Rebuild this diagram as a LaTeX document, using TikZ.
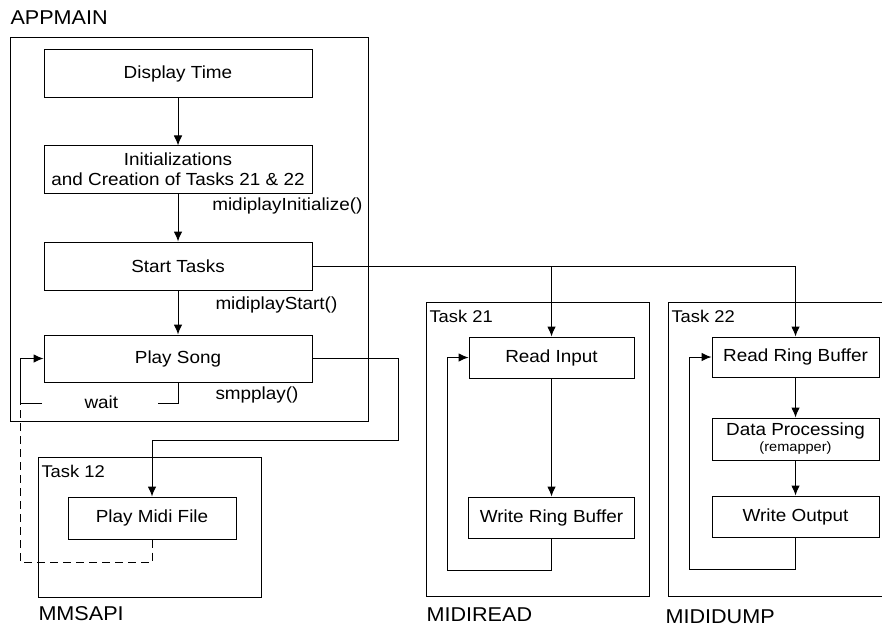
\documentclass[tikz,border=0pt]{standalone}
\usepackage{fontspec}
\setmainfont{Liberation Sans}[FakeStretch=1.08]
\usetikzlibrary{arrows.meta}
\begin{document}
\begin{tikzpicture}[x=1pt,y=-1pt,line width=1pt,
  arr/.style={-{Latex[length=10pt,width=8.5pt]}},
  blk/.style={draw,inner sep=0pt,align=center,font=\fontsize{17.5}{20}\selectfont},
  frame/.style={draw},
  title/.style={anchor=base west,inner sep=0pt,font=\fontsize{20}{22}\selectfont},
  tasklbl/.style={anchor=base west,inner sep=0pt,font=\fontsize{17}{19}\selectfont},
  call/.style={inner sep=0pt,font=\fontsize{17.5}{20}\selectfont}]
\useasboundingbox (0,0) rectangle (882,631);
\begin{scope}
\clip (0,0) rectangle (882,631);

% outer frames
\draw[frame] (10,38) rectangle (368,421);
\draw[frame] (38,457) rectangle (261,597);
\draw[frame] (426,302) rectangle (649,596);
\draw[frame] (668,302) rectangle (900,596);

% frame titles
\node[title] (tapp) at (10,25) {APPMAIN};
\node[title] (tmms) at (38,620) {MMSAPI};
\node[title] (tmr) at (426,621) {MIDIREAD};
\node[title] (tmd) at (665,623) {MIDIDUMP};
\node[tasklbl] (t12) at (41,477) {Task 12};
\node[tasklbl] (t21) at (429,322) {Task 21};
\node[tasklbl] (t22) at (671,322) {Task 22};

% APPMAIN blocks
\node[blk,minimum width=268pt,minimum height=48pt] (disp) at (178,74) {Display Time};
\node[blk,minimum width=268pt,minimum height=47pt] (init) at (178,169.5)
  {Initializations\\and Creation of Tasks 21 \& 22};
\node[blk,minimum width=268pt,minimum height=48pt] (start) at (178,266) {Start Tasks};
\node[blk,minimum width=268pt,minimum height=47pt] (play) at (178,358.5) {Play Song};

% MMSAPI block
\node[blk,minimum width=168pt,minimum height=42pt] (pmf) at (152,518) {Play Midi File};

% MIDIREAD blocks
\node[blk,minimum width=165pt,minimum height=41pt] (ri) at (551.5,357.5) {Read Input};
\node[blk,minimum width=166pt,minimum height=41pt] (wrb) at (551.5,517.5) {Write Ring Buffer};

% MIDIDUMP blocks
\node[blk,minimum width=167pt,minimum height=40pt] (rrb) at (795.5,357) {Read Ring Buffer};
\node[blk,minimum width=167pt,minimum height=42pt] (dp) at (795.5,439)
  {Data Processing\\[-4pt]{\fontsize{13.5}{14}\selectfont(remapper)}};
\node[blk,minimum width=167pt,minimum height=41pt] (wo) at (795.5,516.5) {Write Output};

% call labels
\node[call,anchor=base east] (lini) at (363,210) {midiplayInitialize()};
\node[call,anchor=base west] (lsta) at (215,309) {midiplayStart()};
\node[call,anchor=base west] (lsmp) at (215,399) {smpplay()};
\node[call,anchor=base west] (lwait) at (84,408) {wait};

% main sequence
\draw[arr] (disp) -- (init);
\draw[arr] (init) -- (start);
\draw[arr] (start) -- (play);

% start of tasks 21 and 22
\coordinate (j21) at (ri.north |- start.east);
\draw (start.east) -- (j21);
\draw[arr] (j21) -| (rrb.north);
\draw[arr] (j21) -- (ri.north);

% play song calls the midi player
\coordinate (ps1) at (398,440);
\draw[arr] (play.east) -| (ps1) -| (pmf.north);

% wait loop
\coordinate (w0) at (158,403);
\coordinate (w1) at (42,403);
\coordinate (w2) at (20,403);
\draw (play.south) |- (w0);
\draw[arr] (w1) -- (w2) |- (play.west);
\draw[dashed,dash pattern=on 8pt off 5pt] (pmf.south) |- (20,562) -- (w2);

% task 21 loop
\draw[arr] (ri) -- (wrb);
\draw[arr] (wrb.south) |- (447,570) |- (ri.west);

% task 22 loop
\draw[arr] (rrb) -- (dp);
\draw[arr] (dp) -- (wo);
\draw[arr] (wo.south) |- (689,569) |- (rrb.west);
\end{scope}
\end{tikzpicture}
\end{document}
